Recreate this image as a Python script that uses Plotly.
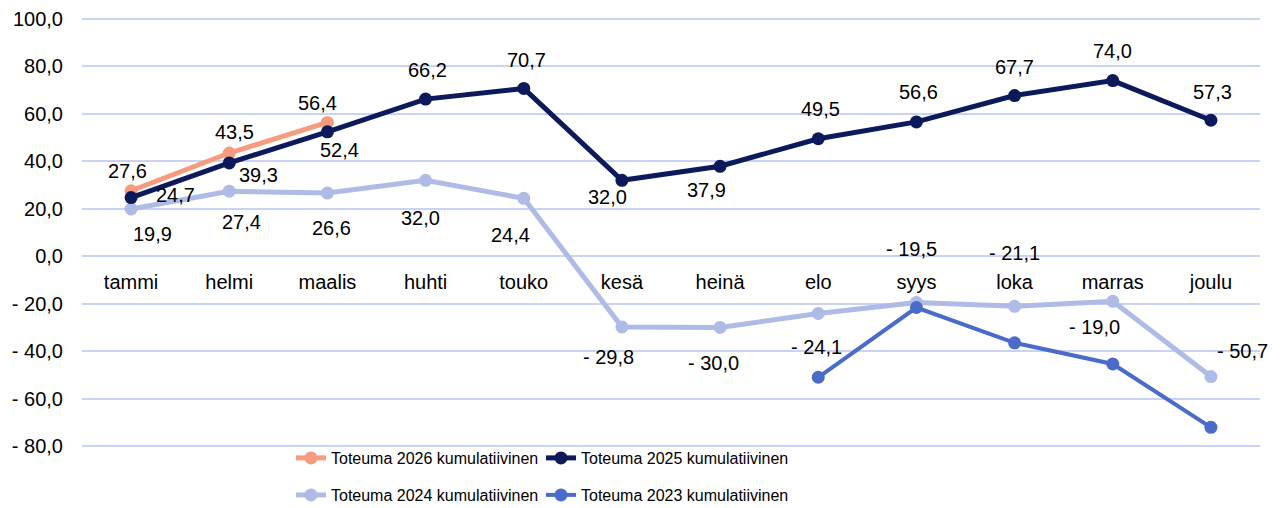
import plotly.graph_objects as go

months = ["tammi", "helmi", "maalis", "huhti", "touko", "kesä", "heinä",
          "elo", "syys", "loka", "marras", "joulu"]

v2026 = [27.6, 43.5, 56.4, None, None, None, None, None, None, None, None, None]
v2025 = [24.7, 39.3, 52.4, 66.2, 70.7, 32.0, 37.9, 49.5, 56.6, 67.7, 74.0, 57.3]
v2024 = [19.9, 27.4, 26.6, 32.0, 24.4, -29.8, -30.0, -24.1, -19.5, -21.1, -19.0, -50.7]
v2023 = [None, None, None, None, None, None, None, -51.0, -21.6, -36.5, -45.4, -72.1]

names = {
    "2026": "Toteuma 2026 kumulatiivinen",
    "2025": "Toteuma 2025 kumulatiivinen",
    "2024": "Toteuma 2024 kumulatiivinen",
    "2023": "Toteuma 2023 kumulatiivinen",
}

y_ticks = [100, 80, 60, 40, 20, 0, -20, -40, -60, -80]

# label pixel offsets (dx, dy) relative to each point (styling only)
off2026 = [(-4, -20), (5, -21), (-10, -19)]
off2025 = [(44, -3), (29, 12), (12, 18), (2, -29), (3, -28), (-14, 17), (-14, 24),
           (2, -30), (2, -30), (0, -29), (0, -30), (2, -28)]
off2024 = [(21, 25), (12, 31), (4, 35), (-5, 38), (-13, 37), (-13, 30), (-7, 36),
           (-2, 34), (-5, -54), (0, -53), (-18, 26), (32, -26)]

C2026 = "#F79B7F"
C2025 = "#0C1A5B"
C2024 = "#AEBBE6"
C2023 = "#4A6BC9"
GRID = "#CAD3F3"
FONT = "Liberation Sans, Arial, sans-serif"

Y_MIN, Y_MAX, PAD = -80, 100, 0.8
PLOT_H = 431


def fmt(v):
    s = f"{abs(v):.1f}".replace(".", ",")
    return ("- " + s) if v < 0 else s


fig = go.Figure()


def add_line(vals, color, name, legend, width=5):
    fig.add_trace(go.Scatter(
        x=months, y=vals, mode="lines+markers", name=name,
        line=dict(color=color, width=width),
        marker=dict(color=color, size=13),
        legend=legend, connectgaps=False, cliponaxis=False,
    ))


add_line(v2026, C2026, names["2026"], "legend")
add_line(v2024, C2024, names["2024"], "legend2")
add_line(v2025, C2025, names["2025"], "legend")
add_line(v2023, C2023, names["2023"], "legend2", width=4)

for vals, offs in ((v2026, off2026), (v2025, off2025), (v2024, off2024)):
    for i, (m, v) in enumerate(zip(months, vals)):
        if v is None or i >= len(offs):
            continue
        dx, dy = offs[i]
        fig.add_annotation(x=m, y=v, text=fmt(v), showarrow=False,
                           xanchor="center", yanchor="middle",
                           xshift=dx, yshift=-dy,
                           font=dict(family=FONT, size=20, color="#000000"))

legend_common = dict(
    orientation="h", xanchor="left", yanchor="middle",
    font=dict(family=FONT, size=16, color="#000000"),
    bgcolor="rgba(0,0,0,0)", itemwidth=30, entrywidth=205, entrywidthmode="pixels",
)

fig.update_layout(
    width=1278, height=530,
    margin=dict(l=74, r=26, t=9, b=90),
    paper_bgcolor="white", plot_bgcolor="white",
    font=dict(family=FONT, size=20, color="#000000"),
    showlegend=True,
    legend=dict(x=0.1774, y=-10 / PLOT_H, **legend_common),
    legend2=dict(x=0.1774, y=-47 / PLOT_H, **legend_common),
    xaxis=dict(
        type="category", categoryorder="array", categoryarray=months,
        range=[-0.5, 11.5], automargin=False,
        anchor="free", position=(0 - (Y_MIN - PAD)) / (Y_MAX - Y_MIN + 2 * PAD),
        showgrid=False, showline=False, zeroline=False,
        ticks="", ticklabelstandoff=12, ticklabeloverflow="allow",
        tickfont=dict(family=FONT, size=20, color="#000000"),
    ),
    yaxis=dict(
        range=[Y_MIN - PAD, Y_MAX + PAD], automargin=False,
        tickvals=y_ticks, ticktext=[fmt(t) for t in y_ticks],
        showgrid=True, gridcolor=GRID, gridwidth=1.5,
        zeroline=True, zerolinecolor=GRID, zerolinewidth=1.5,
        showline=False, ticks="", ticklabelstandoff=18, ticklabeloverflow="allow",
        tickfont=dict(family=FONT, size=20, color="#000000"),
    ),
)

fig.write_html("out.html")
